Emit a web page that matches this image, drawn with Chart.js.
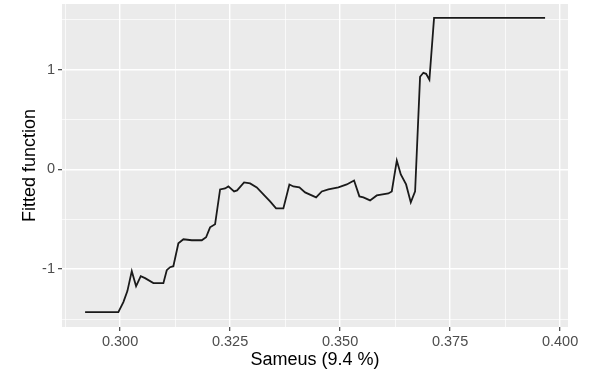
<!DOCTYPE html>
<html>
<head>
<meta charset="utf-8">
<title>Fitted function vs Sameus</title>
<script src="https://cdn.jsdelivr.net/npm/chart.js@4.4.1/dist/chart.umd.min.js"></script>
<style>
    html, body {
        margin: 0;
        padding: 0;
        background: #ffffff;
    }
    /* the reference is cropped just past the last tick label */
    .frame {
        width: 579px;
        height: 375px;
        overflow: hidden;
    }
    .chart-box {
        position: relative;
        width: 594px;
        height: 375px;
    }
</style>
</head>
<body>
<div class="frame">
    <div class="chart-box">
        <canvas id="fittedChart"></canvas>
    </div>
</div>
<script>
// Sameus share (x) and fitted function (y)
const sameusValues = [
    0.29205, 0.29961, 0.30075, 0.30166, 0.30266, 0.30364, 0.30470, 0.30568,
    0.30757, 0.30984, 0.31061, 0.31136, 0.31211, 0.31325, 0.31439, 0.31630,
    0.31857, 0.31955, 0.32045, 0.32159, 0.32273, 0.32386, 0.32461, 0.32591,
    0.32659, 0.32818, 0.32955, 0.33107, 0.33257, 0.33409, 0.33545, 0.33711,
    0.33848, 0.33939, 0.34075, 0.34205, 0.34455, 0.34584, 0.34734, 0.34961,
    0.35152, 0.35318, 0.35439, 0.35530, 0.35682, 0.35834, 0.36098, 0.36175,
    0.36289, 0.36380, 0.36500, 0.36607, 0.36705, 0.36818, 0.36893, 0.36955,
    0.37030, 0.37136, 0.39659
];
const fittedValues = [
    -1.43, -1.43, -1.33, -1.22, -1.02, -1.17, -1.07, -1.09,
    -1.14, -1.14, -1.01, -0.98, -0.97, -0.74, -0.70, -0.71,
    -0.71, -0.68, -0.58, -0.55, -0.20, -0.19, -0.17, -0.22,
    -0.21, -0.13, -0.14, -0.18, -0.25, -0.32, -0.39, -0.39,
    -0.15, -0.17, -0.18, -0.23, -0.28, -0.22, -0.20, -0.18,
    -0.15, -0.11, -0.27, -0.28, -0.31, -0.26, -0.24, -0.22,
    0.09, -0.05, -0.15, -0.33, -0.22, 0.93, 0.97, 0.96,
    0.90, 1.52, 1.52
];

// Axis breaks (ggplot style: labelled majors plus unlabelled minors)
const xMajorTicks = [0.300, 0.325, 0.350, 0.375, 0.400];
const xMinorTicks = [0.2875, 0.3125, 0.3375, 0.3625, 0.3875];
const yMajorTicks = [-1, 0, 1];
const yMinorTicks = [-1.5, -0.5, 0.5, 1.5];

const xTitle = 'Sameus (9.4 %)';
const yTitle = 'Fitted function';

const PANEL_BG = '#EBEBEB';
const TICK_TEXT = '#4D4D4D';
const FONT_FAMILY = '"Liberation Sans", Arial, sans-serif';

const isMajor = (list, v) => list.some(m => Math.abs(m - v) < 1e-9);

const buildTicks = (major, minor) => (scale) => {
    scale.ticks = major.concat(minor)
        .sort((a, b) => a - b)
        .map(v => ({ value: v }));
};

// grey panel behind the grid, like theme_grey()
const panelBackground = {
    id: 'panelBackground',
    beforeDraw(chart) {
        const { ctx, chartArea } = chart;
        ctx.save();
        ctx.fillStyle = PANEL_BG;
        ctx.fillRect(chartArea.left, chartArea.top,
            chartArea.right - chartArea.left, chartArea.bottom - chartArea.top);
        ctx.restore();
    }
};

const points = sameusValues.map((x, i) => ({ x: x, y: fittedValues[i] }));

new Chart(document.getElementById('fittedChart'), {
    type: 'scatter',
    data: {
        datasets: [{
            data: points,
            showLine: true,
            borderColor: '#1a1a1a',
            borderWidth: 1.8,
            pointRadius: 0,
            pointHoverRadius: 0,
            tension: 0,
            fill: false
        }]
    },
    options: {
        responsive: true,
        maintainAspectRatio: false,
        animation: false,
        layout: {
            padding: { top: 4, right: 26, bottom: 0, left: 0 }
        },
        plugins: {
            legend: { display: false },
            tooltip: { enabled: false }
        },
        scales: {
            x: {
                type: 'linear',
                min: 0.2868,
                max: 0.4018,
                afterBuildTicks: buildTicks(xMajorTicks, xMinorTicks),
                afterFit(scale) {
                    scale.height = 48;
                    scale.paddingLeft = 0;
                    scale.paddingRight = 0;
                },
                border: { display: false },
                grid: {
                    color: '#ffffff',
                    lineWidth: (c) => isMajor(xMajorTicks, c.tick.value) ? 1.4 : 0.7,
                    drawTicks: true,
                    tickLength: 4,
                    tickWidth: 1.1,
                    tickColor: (c) => isMajor(xMajorTicks, c.tick.value) ? '#333333' : 'rgba(0,0,0,0)'
                },
                ticks: {
                    autoSkip: false,
                    maxRotation: 0,
                    padding: 2,
                    color: TICK_TEXT,
                    font: { family: FONT_FAMILY, size: 14.5 },
                    callback: (v) => isMajor(xMajorTicks, v) ? v.toFixed(3) : ''
                },
                title: {
                    display: true,
                    text: xTitle,
                    color: '#000000',
                    padding: { top: 0, bottom: 4 },
                    font: { family: FONT_FAMILY, size: 18 }
                }
            },
            y: {
                type: 'linear',
                min: -1.58,
                max: 1.66,
                afterBuildTicks: buildTicks(yMajorTicks, yMinorTicks),
                afterFit(scale) {
                    scale.width = 62;
                    scale.paddingTop = 0;
                    scale.paddingBottom = 0;
                },
                border: { display: false },
                grid: {
                    color: '#ffffff',
                    lineWidth: (c) => isMajor(yMajorTicks, c.tick.value) ? 1.4 : 0.7,
                    drawTicks: true,
                    tickLength: 4,
                    tickWidth: 1.1,
                    tickColor: (c) => isMajor(yMajorTicks, c.tick.value) ? '#333333' : 'rgba(0,0,0,0)'
                },
                ticks: {
                    autoSkip: false,
                    padding: 3,
                    color: TICK_TEXT,
                    font: { family: FONT_FAMILY, size: 14.5 },
                    callback: (v) => isMajor(yMajorTicks, v) ? String(v) : ''
                },
                title: {
                    display: true,
                    text: yTitle,
                    color: '#000000',
                    padding: { top: 19, bottom: 0 },
                    font: { family: FONT_FAMILY, size: 18 }
                }
            }
        }
    },
    plugins: [panelBackground]
});
</script>
</body>
</html>
